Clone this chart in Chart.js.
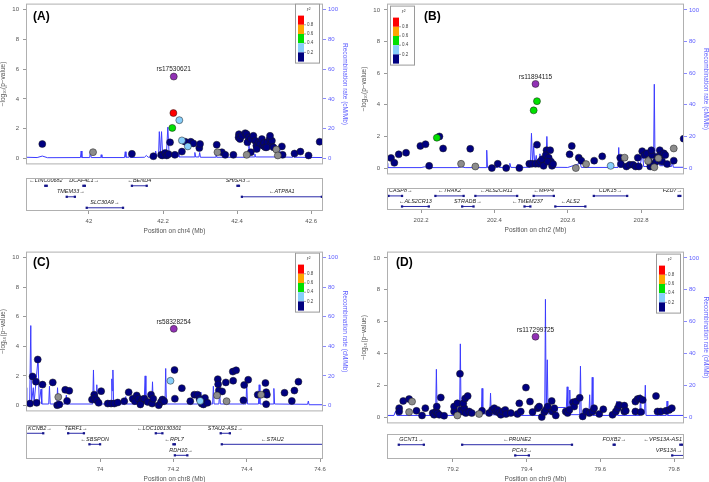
<!DOCTYPE html>
<html>
<head>
<meta charset="utf-8">
<script src="https://cdn.jsdelivr.net/npm/chart.js@4.4.0/dist/chart.umd.min.js"></script>
<style>
  html, body { margin: 0; padding: 0; background: #fff; overflow: hidden; }
  #wrap { position: relative; width: 709px; height: 482px; overflow: hidden; }
  #wrap canvas { position: absolute; }
</style>
</head>
<body>
<div id="wrap"></div>
<script>
// ---- shared ----
const yTicksLeft = [0, 2, 4, 6, 8, 10];
const yTicksRight = [0, 20, 40, 60, 80, 100];
const legendBreaks = ['0.8', '0.6', '0.4', '0.2'];

// ---- panel A : chr4 ----
const xRangeA = [41.830, 42.632];
const xTicksA = [42, 42.2, 42.4, 42.6];
const leadA = ['rs17530621', 42.229, 5.5];
const navyA = [[41.874,0.97],[42.116,0.31],[42.174,0.15],[42.195,0.24],[42.198,0.20],[42.206,0.37],[42.210,0.20],[42.215,0.29],[42.219,1.08],[42.232,0.24],[42.251,0.46],[42.260,1.12],[42.275,1.12],[42.282,1.01],[42.298,0.70],[42.300,0.97],[42.345,0.92],[42.359,0.42],[42.368,0.24],[42.390,0.24],[42.437,0.42],[42.521,0.81],[42.523,0.24],[42.555,0.33],[42.571,0.46],[42.593,0.20],[42.623,1.12],
  [42.405,1.63],[42.404,1.41],[42.408,1.30],[42.413,1.52],[42.422,1.70],[42.426,1.63],[42.431,1.41],[42.428,1.08],[42.437,1.30],[42.444,1.52],[42.449,1.19],[42.452,0.86],[42.458,1.08],[42.462,0.97],[42.467,1.30],[42.470,0.86],[42.473,1.04],[42.476,0.75],[42.482,1.08],[42.488,1.30],[42.491,0.93],[42.494,1.19],[42.480,0.75],[42.489,1.52],[42.453,0.64],[42.498,0.75]];
const greyA = [[42.011,0.42],[42.347,0.42],[42.426,0.24],[42.506,0.60],[42.510,0.20]];
const skyA = [[42.244,2.57],[42.251,1.21],[42.267,0.81]];
const greenA = [[42.225,2.05]];
const redA = [[42.228,3.05]];
const recA = [[41.830,10],[41.831,0.8],[41.860,0.6],[41.874,1.6],[41.888,0.5],[41.977,0.6],[41.979,5],[41.981,0.6],[42.002,0.6],[42.004,5],[42.006,0.6],[42.032,0.6],[42.033,2.5],[42.035,0.6],[42.096,0.6],[42.098,4.5],[42.100,0.8],[42.108,0.8],[42.109,3],[42.111,0.6],[42.150,0.8],[42.155,2],[42.160,0.8],[42.178,1],[42.180,5],[42.183,1.5],[42.188,2],[42.190,18],[42.193,3],[42.196,18],[42.199,2],[42.209,2],[42.213,21],[42.216,5],[42.222,1.5],[42.239,1.2],[42.241,4],[42.243,1],[42.284,1],[42.286,4],[42.288,1],[42.297,1],[42.299,4],[42.301,0.8],[42.341,0.8],[42.343,4],[42.345,0.8],[42.365,0.8],[42.367,3],[42.369,0.8],[42.392,0.8],[42.394,4],[42.396,0.8],[42.430,0.8],[42.432,10],[42.434,1],[42.446,1],[42.448,3],[42.450,1],[42.513,1],[42.515,7.5],[42.517,1],[42.550,0.8],[42.552,4],[42.554,0.8],[42.632,0.6]];
const genesA = [
  ['LINC00682', 41.882, 41.886, -1, 0],
  ['DCAF4L1', 41.985, 41.989, 1, 0],
  ['BEND4', 42.116, 42.156, -1, 0],
  ['SHISA3', 42.401, 42.405, 1, 0],
  ['TMEM33', 41.940, 41.962, 1, 1],
  ['ATP8A1', 42.413, 42.629, -1, 1],
  ['SLC30A9', 41.994, 42.092, 1, 2]
];

// ---- panel B : chr2 ----
const xRangeB = [202.107, 202.917];
const xTicksB = [202.2, 202.4, 202.6, 202.8];
const leadB = ['rs11894115', 202.512, 5.32];
const navyB = [[202.118,0.64],[202.127,0.33],[202.139,0.87],[202.159,0.97],[202.198,1.40],[202.212,1.51],[202.222,0.14],[202.250,2.00],[202.260,1.24],[202.334,1.22],[202.393,0.00],[202.409,0.27],[202.432,0.00],[202.468,0.00],[202.495,0.27],[202.502,0.27],[202.516,1.48],[202.512,0.27],[202.521,0.27],[202.525,0.41],[202.530,0.56],[202.534,0.14],[202.542,1.13],[202.540,0.82],[202.548,0.66],[202.552,1.13],[202.554,0.41],[202.557,0.14],[202.545,0.41],[202.560,0.25],[202.605,0.87],[202.611,1.40],[202.630,0.66],[202.637,0.47],[202.672,0.47],[202.694,0.74],[202.743,0.66],[202.745,0.25],[202.760,0.10],[202.769,0.21],[202.778,0.21],[202.785,0.10],[202.794,0.10],[202.791,0.66],[202.803,1.07],[202.809,0.82],[202.816,0.93],[202.822,0.41],[202.825,0.10],[202.830,0.82],[202.834,0.21],[202.841,0.41],[202.845,0.72],[202.851,1.13],[202.854,0.82],[202.857,0.41],[202.862,0.93],[202.866,0.82],[202.828,1.13],[202.833,0.14],[202.871,0.25],[202.889,0.47],[202.916,1.86]];
const greyB = [[202.309,0.27],[202.348,0.10],[202.622,0.00],[202.650,0.25],[202.755,0.66],[202.819,0.45],[202.847,0.62],[202.889,1.24],[202.836,0.05]];
const skyB = [[202.717,0.14]];
const greenB = [[202.243,1.92],[202.507,3.65],[202.516,4.23]];
const recB = [[202.107,3],[202.109,0.3],[202.200,0.3],[202.210,0.8],[202.220,0.3],[202.300,0.3],[202.310,0.8],[202.320,0.3],[202.377,0.3],[202.379,11.3],[202.381,0.4],[202.408,0.4],[202.410,2.5],[202.413,0.4],[202.440,0.4],[202.442,3],[202.445,0.4],[202.462,0.4],[202.464,2.5],[202.466,0.4],[202.498,0.5],[202.501,22],[202.504,3],[202.507,14],[202.510,2],[202.514,8],[202.517,2],[202.522,2],[202.524,9],[202.527,2],[202.540,2],[202.543,20],[202.546,3],[202.549,9],[202.552,2],[202.559,5],[202.562,0.5],[202.600,0.4],[202.634,3],[202.637,0.4],[202.737,0.4],[202.739,13],[202.741,0.5],[202.790,0.5],[202.792,4],[202.796,0.6],[202.804,9],[202.807,1],[202.834,1],[202.836,53],[202.838,2],[202.845,2],[202.848,7],[202.851,1.5],[202.861,1.5],[202.863,9],[202.866,1],[202.883,1],[202.885,4],[202.888,0.5],[202.917,0.5]];
const genesB = [
  ['CASP8', 202.111, 202.148, 1, 0],
  ['TRAK2', 202.239, 202.316, -1, 0],
  ['ALS2CR11', 202.348, 202.462, -1, 0],
  ['MPP4', 202.507, 202.562, -1, 0],
  ['CDK15', 202.671, 202.762, 1, 0],
  ['FZD7', 202.902, 202.907, 1, 0],
  ['ALS2CR13', 202.148, 202.221, -1, 1],
  ['STRADB', 202.312, 202.343, 1, 1],
  ['TMEM237', 202.482, 202.498, -1, 1],
  ['ALS2', 202.566, 202.648, -1, 1]
];

// ---- panel C : chr8 ----
const xRangeC = [73.798, 74.608];
const xTicksC = [74, 74.2, 74.4, 74.6];
const leadC = ['rs58328254', 74.201, 5.18];
const navyC = [[73.809,0.13],[73.816,1.96],[73.825,1.61],[73.830,3.11],[73.827,0.18],[73.843,1.41],[73.871,1.56],[73.883,0.02],[73.889,0.07],[73.905,1.06],[73.916,0.99],[73.910,0.31],[73.978,0.40],[73.984,0.73],[73.986,0.51],[73.991,0.35],[74.003,0.97],[73.996,0.18],[74.021,0.13],[74.030,0.13],[74.039,0.13],[74.048,0.20],[74.066,0.29],[74.078,0.90],[74.089,0.46],[74.095,0.29],[74.100,0.68],[74.105,0.46],[74.112,0.24],[74.116,0.42],[74.121,0.46],[74.110,0.07],[74.130,0.24],[74.139,0.73],[74.142,0.13],[74.145,0.46],[74.160,0.02],[74.166,0.24],[74.170,0.40],[74.175,0.29],[74.203,2.40],[74.204,0.46],[74.223,1.17],[74.246,0.29],[74.257,0.73],[74.266,0.73],[74.271,0.46],[74.277,0.13],[74.282,0.07],[74.286,0.51],[74.293,0.18],[74.321,1.78],[74.322,1.43],[74.324,1.01],[74.333,0.95],[74.343,1.56],[74.362,2.29],[74.371,2.38],[74.363,1.67],[74.391,0.35],[74.393,1.39],[74.404,1.74],[74.430,0.73],[74.451,1.52],[74.453,0.90],[74.455,0.73],[74.453,0.09],[74.503,0.86],[74.523,0.31],[74.530,1.01],[74.541,1.61]];
const greyC = [[73.886,0.57],[74.319,0.68],[74.345,0.29],[74.439,0.73]];
const skyC = [[74.192,1.67],[74.273,0.31]];
const recC = [[73.798,12],[73.800,1],[73.808,1],[73.811,54],[73.813,2],[73.818,12],[73.820,1.5],[73.831,32],[73.834,2],[73.839,11],[73.841,1],[73.860,1],[73.862,13],[73.864,1],[73.882,1],[73.884,12],[73.886,1],[73.905,1],[73.908,7],[73.910,1],[73.980,1],[73.982,24],[73.984,2],[73.989,2],[73.991,14],[73.993,1],[74.030,1],[74.032,18],[74.033,10],[74.035,24],[74.037,1],[74.068,1],[74.070,6],[74.072,1],[74.120,1],[74.123,20],[74.125,1.5],[74.141,1.5],[74.143,16],[74.145,1],[74.177,1],[74.179,25],[74.181,1],[74.240,1],[74.242,5],[74.244,1],[74.271,1],[74.273,9],[74.275,1],[74.307,1],[74.309,13],[74.311,1],[74.324,1],[74.326,9],[74.328,1],[74.398,1],[74.400,16],[74.402,1],[74.432,1],[74.434,14],[74.436,1],[74.472,1],[74.474,11.5],[74.476,1],[74.566,0.8],[74.568,3],[74.570,0.5],[74.608,0.5]];
const genesC = [
  ['KCNB2', 73.700, 73.845, 1, 0],
  ['TERF1', 73.913, 73.956, 1, 0],
  ['LOC100130301', 74.152, 74.170, -1, 0],
  ['STAU2-AS1', 74.329, 74.354, 1, 0],
  ['SBSPON', 73.971, 74.000, -1, 1],
  ['RPL7', 74.200, 74.204, -1, 1],
  ['STAU2', 74.332, 74.700, -1, 1],
  ['RDH10', 74.204, 74.238, 1, 2]
];

// ---- panel D : chr9 ----
const xRangeD = [79.021, 79.827];
const xTicksD = [79.2, 79.4, 79.6, 79.8];
const leadD = ['rs117299725', 79.424, 5.05];
const navyD = [[79.054,0.56],[79.054,0.35],[79.065,1.01],[79.081,1.13],[79.101,0.39],[79.116,0.10],[79.125,0.56],[79.145,0.25],[79.149,0.14],[79.154,0.35],[79.158,0.25],[79.163,0.14],[79.156,0.66],[79.167,1.23],[79.176,0.08],[79.203,0.35],[79.203,0.66],[79.212,0.86],[79.219,2.72],[79.221,0.45],[79.226,0.35],[79.231,0.56],[79.235,0.25],[79.228,0.86],[79.233,1.17],[79.240,1.32],[79.244,0.35],[79.251,0.25],[79.279,0.39],[79.298,0.25],[79.306,0.45],[79.312,0.56],[79.317,0.35],[79.321,0.45],[79.326,0.25],[79.330,0.14],[79.335,0.35],[79.342,0.45],[79.344,0.19],[79.357,0.25],[79.375,0.19],[79.380,0.86],[79.384,0.35],[79.398,1.85],[79.409,0.97],[79.416,0.31],[79.430,0.56],[79.434,0.66],[79.441,0.00],[79.448,0.31],[79.452,0.45],[79.457,0.66],[79.468,1.01],[79.470,0.35],[79.475,0.56],[79.479,0.10],[79.506,0.35],[79.511,0.25],[79.516,0.45],[79.526,0.93],[79.529,0.66],[79.534,0.97],[79.544,1.21],[79.552,0.04],[79.561,0.35],[79.570,0.25],[79.579,0.35],[79.583,0.56],[79.597,0.19],[79.608,0.49],[79.633,0.14],[79.642,0.35],[79.647,0.56],[79.651,0.76],[79.665,0.72],[79.665,0.35],[79.669,0.39],[79.695,0.97],[79.695,0.35],[79.701,1.13],[79.707,1.17],[79.715,1.07],[79.710,0.31],[79.751,1.32],[79.755,0.35],[79.764,0.35],[79.778,0.39],[79.787,0.45],[79.794,0.56]];
const greyD = [[79.089,0.97],[79.081,0.31],[79.212,0.10],[79.271,0.19]];
const recD = [[79.021,1],[79.040,1],[79.044,3.5],[79.048,1],[79.153,1],[79.155,30],[79.157,2],[79.160,3],[79.165,1],[79.218,1],[79.220,46],[79.222,2],[79.240,2],[79.250,3],[79.265,3],[79.277,2],[79.279,18],[79.281,2],[79.300,2],[79.302,15],[79.304,1.5],[79.340,1],[79.449,1],[79.451,74],[79.453,3],[79.456,36],[79.458,2],[79.482,2],[79.484,6],[79.505,6],[79.507,1.5],[79.508,1.5],[79.510,19],[79.512,2],[79.515,2],[79.517,17],[79.519,1.5],[79.544,1.5],[79.546,32],[79.548,1.5],[79.569,1.5],[79.571,14],[79.573,2],[79.576,2],[79.578,25],[79.580,1],[79.643,1],[79.645,10],[79.647,1],[79.707,1],[79.709,14],[79.711,2],[79.720,2],[79.722,20],[79.724,1],[79.779,1],[79.781,10],[79.783,1],[79.827,1]];
const genesD = [
  ['GCNT1', 79.053, 79.121, 1, 0],
  ['PRUNE2', 79.225, 79.523, -1, 0],
  ['FOXB2', 79.636, 79.639, 1, 0],
  ['VPS13A-AS1', 79.817, 79.822, -1, 0],
  ['PCA3', 79.369, 79.406, 1, 1],
  ['VPS13A', 79.795, 79.900, 1, 1]
];

// colours for r^2 bins
const LD = { navy: '#000080', sky: '#87cefa', green: '#00e000', orange: '#ffa500', red: '#ff0000', grey: '#8c8c8c', lead: '#9131b4' };
const FONT = "'Liberation Sans', Arial, 'DejaVu Sans', sans-serif";
const RECOMB = '#3c3cff';
Chart.defaults.font.family = FONT;

// page geometry of each panel (pixels)
const panels = [
  { tag: '(A)', chr: 'chr4', xRange: xRangeA, xTicks: xTicksA, lead: leadA, navy: navyA, grey: greyA, sky: skyA, green: greenA, red: redA, rec: recA, genes: genesA,
    L: 26, R: 323, y0: 160, y10: 8.3, gT: 174.5, gB: 211, gOff: 8.5, legendSide: 'right', legendDy: 0, tagDx: 7, tagDy: 13 },
  { tag: '(B)', chr: 'chr2', xRange: xRangeB, xTicks: xTicksB, lead: leadB, navy: navyB, grey: greyB, sky: skyB, green: greenB, red: [], rec: recB, genes: genesB,
    L: 387, R: 684, y0: 170, y10: 8.3, gT: 185, gB: 210, gOff: 9, legendSide: 'left', legendDy: 2, tagDx: 37, tagDy: 13 },
  { tag: '(C)', chr: 'chr8', xRange: xRangeC, xTicks: xTicksC, lead: leadC, navy: navyC, grey: greyC, sky: skyC, green: [], red: [], rec: recC, genes: genesC,
    L: 26, R: 323, y0: 407.3, y10: 256, gT: 422, gB: 459, gOff: 9, legendSide: 'right', legendDy: 1, tagDx: 7, tagDy: 11 },
  { tag: '(D)', chr: 'chr9', xRange: xRangeD, xTicks: xTicksD, lead: leadD, navy: navyD, grey: greyD, sky: [], green: [], red: [], rec: recD, genes: genesD,
    L: 387, R: 684, y0: 419, y10: 256.7, gT: 431, gB: 459, gOff: 12, legendSide: 'right', legendDy: 2, tagDx: 9, tagDy: 11 }
];

const wrap = document.getElementById('wrap');
const LEFT_W = 27, RIGHT_W = 26;

function makeCanvas(left, top, w, h) {
  const c = document.createElement('canvas');
  c.width = w; c.height = h;
  c.style.left = left + 'px'; c.style.top = top + 'px';
  c.style.width = w + 'px'; c.style.height = h + 'px';
  wrap.appendChild(c);
  return c;
}

const framePlugin = {
  id: 'frame',
  afterDraw(chart) {
    const a = chart.chartArea, ctx = chart.ctx;
    ctx.save();
    ctx.strokeStyle = '#b0b0b0';
    ctx.lineWidth = 1;
    ctx.strokeRect(a.left + 0.5, a.top + 0.5, a.right - a.left - 1, a.bottom - a.top - 1);
    ctx.restore();
  }
};

function snpDataset(pairs, color, order) {
  return {
    type: 'scatter',
    data: pairs.map(d => ({ x: d[0], y: d[1] })),
    backgroundColor: color,
    borderColor: '#1a1a1a',
    borderWidth: 0.5,
    pointRadius: 3.5,
    order: order
  };
}

function drawMain(p) {
  const unit = (p.y0 - p.y10) / 10;
  const top = Math.round(p.y10 - 0.4 * unit);
  const bottom = Math.round(p.y0 + 0.4 * unit);
  const pad = 6;
  const w = (p.R - p.L) + LEFT_W + RIGHT_W;
  const h = bottom - top + 2 * pad;
  const cv = makeCanvas(p.L - LEFT_W, top - pad, w, h);

  const extras = {
    id: 'extras',
    afterDraw(chart) {
      const a = chart.chartArea, ctx = chart.ctx;
      const xs = chart.scales.x, ys = chart.scales.y;
      ctx.save();
      // lead SNP name
      ctx.fillStyle = '#222';
      ctx.font = '6.5px ' + FONT;
      ctx.textAlign = 'center';
      ctx.textBaseline = 'middle';
      ctx.fillText(p.lead[0], xs.getPixelForValue(p.lead[1]), ys.getPixelForValue(p.lead[2]) - 7);
      // panel tag
      ctx.fillStyle = '#000';
      ctx.font = 'bold 12px ' + FONT;
      ctx.textAlign = 'left';
      ctx.fillText(p.tag, a.left + p.tagDx, a.top + p.tagDy);
      // r2 legend
      const lw = 25, lh = 60;
      const bx = p.legendSide === 'left' ? a.left + 3 : a.right - lw - 3;
      const by = a.top + p.legendDy;
      ctx.fillStyle = '#fff';
      ctx.fillRect(bx, by, lw, lh);
      ctx.strokeStyle = '#9a9a9a';
      ctx.lineWidth = 1;
      ctx.strokeRect(bx + 0.5, by + 0.5, lw - 1, lh - 1);
      const cols = [LD.red, LD.orange, LD.green, LD.sky, LD.navy];
      const rowH = 9.2, barX = bx + 3, barTop = by + 12;
      cols.forEach((c, i) => { ctx.fillStyle = c; ctx.fillRect(barX, barTop + i * rowH, 6, rowH); });
      ctx.font = '4.5px ' + FONT;
      ctx.fillStyle = '#444';
      ctx.strokeStyle = '#666';
      ctx.lineWidth = 0.6;
      legendBreaks.forEach((t, i) => {
        const y = barTop + (i + 1) * rowH;
        ctx.beginPath(); ctx.moveTo(barX + 6, y); ctx.lineTo(barX + 8, y); ctx.stroke();
        ctx.fillText(t, barX + 9, y);
      });
      ctx.font = 'italic 5.5px ' + FONT;
      ctx.textAlign = 'center';
      ctx.fillText('r\u00B2', bx + lw / 2 + 1, by + 6);
      ctx.restore();
    }
  };

  new Chart(cv, {
    type: 'scatter',
    data: {
      datasets: [
        { type: 'line', data: p.rec.map(d => ({ x: d[0], y: d[1] })), yAxisID: 'y2', borderColor: RECOMB, borderWidth: 1, pointRadius: 0, tension: 0, order: 10 },
        snpDataset(p.navy, LD.navy, 6),
        snpDataset(p.grey, LD.grey, 5),
        snpDataset(p.sky, LD.sky, 4),
        snpDataset(p.green, LD.green, 3),
        snpDataset(p.red, LD.red, 1),
        snpDataset([[p.lead[1], p.lead[2]]], LD.lead, 0)
      ]
    },
    options: {
      responsive: false,
      animation: false,
      events: [],
      layout: { padding: { top: pad, bottom: pad, left: 0, right: 0 } },
      plugins: { legend: { display: false }, tooltip: { enabled: false } },
      scales: {
        x: { type: 'linear', display: false, min: p.xRange[0], max: p.xRange[1] },
        y: {
          position: 'left', min: -0.4, max: 10.4,
          afterBuildTicks: s => { s.ticks = yTicksLeft.map(v => ({ value: v })); },
          afterFit: s => { s.width = LEFT_W; },
          ticks: { font: { size: 6 }, color: '#555', padding: 4 },
          grid: { drawOnChartArea: false, tickLength: 3, color: '#999' },
          border: { display: false },
          title: { display: true, text: '\u2212log\u2081\u2080(p\u2212value)', font: { size: 6.5 }, color: '#555', padding: 0 }
        },
        y2: {
          position: 'right', min: -4, max: 104,
          afterBuildTicks: s => { s.ticks = yTicksRight.map(v => ({ value: v })); },
          afterFit: s => { s.width = RIGHT_W; },
          ticks: { font: { size: 6 }, color: '#5c5cff', padding: 2 },
          grid: { drawOnChartArea: false, tickLength: 3, color: '#8a8aff' },
          border: { display: false },
          title: { display: true, text: 'Recombination rate (cM/Mb)', font: { size: 6.5 }, color: '#5c5cff', padding: 0 }
        }
      }
    },
    plugins: [framePlugin, extras]
  });
}

function drawGenes(p) {
  const gTop = Math.round(p.gT), gBot = Math.round(p.gB);
  const areaH = gBot - gTop;
  const axisH = 24;
  const w = (p.R - p.L) + LEFT_W + RIGHT_W;
  const cv = makeCanvas(p.L - LEFT_W, gTop - 1, w, areaH + 1 + axisH);

  const labels = {
    id: 'geneLabels',
    afterDatasetsDraw(chart) {
      const a = chart.chartArea, ctx = chart.ctx;
      const xs = chart.scales.x, ys = chart.scales.y;
      ctx.save();
      ctx.font = 'italic 5.5px ' + FONT;
      ctx.fillStyle = '#222';
      ctx.textAlign = 'center';
      ctx.textBaseline = 'middle';
      p.genes.forEach(g => {
        const x0 = xs.getPixelForValue(Math.max(g[1], p.xRange[0]));
        const x1 = xs.getPixelForValue(Math.min(g[2], p.xRange[1]));
        const txt = g[3] < 0 ? '\u2190' + g[0] : g[0] + '\u2192';
        const tw = ctx.measureText(txt).width;
        let cx = (x0 + x1) / 2;
        cx = Math.max(a.left + tw / 2 + 2, Math.min(a.right - tw / 2 - 2, cx));
        ctx.fillText(txt, cx, ys.getPixelForValue(g[4]) - 5);
      });
      ctx.restore();
    }
  };

  new Chart(cv, {
    type: 'scatter',
    data: {
      datasets: p.genes.map(g => ({
        type: 'line',
        data: [{ x: g[1], y: g[4] }, { x: g[2], y: g[4] }],
        borderColor: '#2a2aa8',
        borderWidth: 1,
        pointRadius: 1.6,
        pointStyle: 'rect',
        pointBackgroundColor: '#14148a',
        pointBorderWidth: 0
      }))
    },
    options: {
      responsive: false,
      animation: false,
      events: [],
      layout: { padding: { top: 1, bottom: 0, left: LEFT_W, right: RIGHT_W } },
      plugins: { legend: { display: false }, tooltip: { enabled: false } },
      scales: {
        x: {
          type: 'linear', min: p.xRange[0], max: p.xRange[1],
          afterBuildTicks: s => { s.ticks = p.xTicks.map(v => ({ value: v })); },
          afterFit: s => { s.height = axisH; },
          ticks: { font: { size: 6 }, color: '#555', padding: 4, maxRotation: 0, autoSkip: false, callback: v => String(v) },
          grid: { drawOnChartArea: false, tickLength: 3, color: '#999' },
          border: { display: false },
          title: { display: true, text: 'Position on ' + p.chr + ' (Mb)', font: { size: 6.5 }, color: '#555', padding: 0 }
        },
        y: { display: false, reverse: true, min: -p.gOff / 12, max: (areaH - p.gOff) / 12 }
      }
    },
    plugins: [framePlugin, labels]
  });
}

panels.forEach(p => { drawMain(p); drawGenes(p); });
</script>
</body>
</html>
